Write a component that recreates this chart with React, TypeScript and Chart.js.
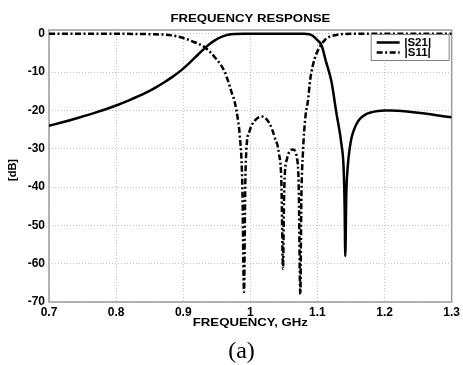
import React, { useEffect, useRef } from "react";
import { Chart, registerables } from "chart.js";

Chart.register(...registerables);

// ---- data ----
const freqS21 = [
  0.70, 0.72, 0.744, 0.77, 0.80, 0.82, 0.843, 0.86, 0.873, 0.885, 0.895, 0.905,
  0.917, 0.927, 0.937, 0.947, 0.957, 0.967, 0.977, 0.99, 1.05, 1.08, 1.088, 1.093,
  1.098, 1.106, 1.113, 1.121, 1.128, 1.136, 1.139, 1.1405, 1.1415, 1.143, 1.145,
  1.148, 1.151, 1.155, 1.16, 1.165, 1.172, 1.18, 1.19, 1.2, 1.21, 1.22, 1.24, 1.26, 1.28, 1.30,
];
const magS21 = [
  -24.0, -23.1, -21.9, -20.5, -18.7, -17.3, -15.5, -13.9, -12.5, -11.1, -9.8, -8.3,
  -6.3, -4.6, -3.0, -1.7, -0.8, -0.25, -0.05, 0, 0, 0, -0.1, -0.5,
  -1.3, -3.0, -7.4, -12.6, -20.4, -29.1, -35, -45, -58, -42, -35,
  -30.0, -27.0, -24.8, -23.0, -21.9, -21.0, -20.5, -20.15, -20.0, -20.0, -20.1, -20.4, -20.8, -21.3, -21.8,
];

const freqS11 = [
  0.70, 0.80, 0.85, 0.8825, 0.90, 0.917, 0.932, 0.947, 0.962, 0.972, 0.977, 0.982,
  0.984, 0.988, 0.9906, 0.9925, 0.994, 0.999, 1.0065, 1.0174, 1.0289, 1.0363, 1.0427,
  1.0463, 1.0487, 1.0502, 1.0512, 1.0547, 1.0636, 1.0696, 1.072, 1.0745, 1.076,
  1.0784, 1.082, 1.0859, 1.0894, 1.0958, 1.1033, 1.113, 1.128, 1.15, 1.30,
];
const magS11 = [
  0, 0, -0.1, -0.4, -1.1, -2.2, -3.5, -6.1, -10.0, -15.2, -18.0, -23.0,
  -26.1, -39.0, -67.4, -39.0, -30.5, -25.3, -22.7, -21.6, -23.5, -27.0, -31.3,
  -39.0, -61.3, -43.5, -37.4, -32.6, -30.2, -32.6, -39.0, -68.0, -43.5,
  -31.0, -21.8, -17.4, -11.7, -6.5, -3.5, -1.3, -0.3, 0, 0,
];

const xTicks = [0.7, 0.8, 0.9, 1.0, 1.1, 1.2, 1.3];
const yTicks = [0, -10, -20, -30, -40, -50, -60, -70];
const seriesNames = ["|S21|", "|S11|"];
const chartTitle = "FREQUENCY RESPONSE";
const xTitle = "FREQUENCY, GHz";
const yTitle = "[dB]";
const caption = "(a)";

const SANS = '"Liberation Sans", Arial, Helvetica, sans-serif';
const SERIF = '"Liberation Serif", "Times New Roman", serif';
const DASH_DOT = [6, 2.5, 2, 2.5];

function stretchedText(
  ctx: CanvasRenderingContext2D,
  str: string,
  x: number,
  y: number,
  font: string,
  sx: number,
  rot = 0
) {
  ctx.save();
  ctx.translate(x, y);
  if (rot) ctx.rotate(rot);
  ctx.scale(sx, 1);
  ctx.font = font;
  ctx.fillStyle = "#000";
  ctx.textAlign = "center";
  ctx.textBaseline = "middle";
  ctx.fillText(str, 0, 0);
  ctx.restore();
}

const decorPlugin = {
  id: "decor",
  beforeDatasetsDraw(chart: any) {
    const { ctx, chartArea: a } = chart;
    ctx.save();
    ctx.strokeStyle = "#9a9a9a";
    ctx.lineWidth = 1.5;
    ctx.strokeRect(a.left, a.top, a.right - a.left, a.bottom - a.top);
    ctx.restore();
  },
  afterDatasetsDraw(chart: any) {
    const { ctx, chartArea: a } = chart;
    // legend box
    const bx = a.right - 81;
    const by = a.top + 4;
    const bw = 79;
    const bh = 27;
    ctx.save();
    ctx.fillStyle = "#fff";
    ctx.fillRect(bx, by, bw, bh);
    ctx.strokeStyle = "#808080";
    ctx.lineWidth = 1;
    ctx.strokeRect(bx + 0.5, by + 0.5, bw - 1, bh - 1);
    ctx.restore();
    const rows = [by + 8.5, by + 18.5];
    chart.data.datasets.forEach((ds: any, i: number) => {
      ctx.save();
      ctx.beginPath();
      ctx.strokeStyle = "#000";
      ctx.lineWidth = 2.5;
      ctx.setLineDash(ds.borderDash || []);
      ctx.moveTo(bx + 6, rows[i]);
      ctx.lineTo(bx + 29, rows[i]);
      ctx.stroke();
      ctx.restore();
      stretchedText(ctx, ds.label, bx + 47, rows[i] + 0.5, `bold 10px ${SANS}`, 1.15);
    });
  },
  afterDraw(chart: any) {
    const { ctx, chartArea: a } = chart;
    const cx = (a.left + a.right) / 2;
    stretchedText(ctx, chartTitle, cx, 18.5, `bold 11px ${SANS}`, 1.2);
    stretchedText(ctx, xTitle, cx, 323, `bold 11px ${SANS}`, 1.2);
    stretchedText(ctx, yTitle, 12.5, 170, `bold 11px ${SANS}`, 1.0, -Math.PI / 2);
    ctx.save();
    ctx.font = `24px ${SERIF}`;
    ctx.fillStyle = "#000";
    ctx.textAlign = "center";
    ctx.textBaseline = "alphabetic";
    ctx.fillText(caption, 241.5, 358);
    ctx.restore();
  },
};

export default function App() {
  const ref = useRef<HTMLCanvasElement>(null);

  useEffect(() => {
    if (!ref.current) return;
    const tickFont = { family: SANS, size: 12, weight: "bold" as const };
    const chart = new Chart(ref.current, {
      type: "line",
      data: {
        datasets: [
          {
            label: seriesNames[0],
            data: freqS21.map((x, i) => ({ x, y: magS21[i] })),
            borderColor: "#000",
            borderWidth: 2.5,
            pointRadius: 0,
            fill: false,
            cubicInterpolationMode: "monotone",
          },
          {
            label: seriesNames[1],
            data: freqS11.map((x, i) => ({ x, y: magS11[i] })),
            borderColor: "#000",
            borderWidth: 2.5,
            borderDash: DASH_DOT,
            pointRadius: 0,
            fill: false,
            cubicInterpolationMode: "monotone",
          },
        ],
      },
      options: {
        animation: false,
        responsive: false,
        maintainAspectRatio: false,
        layout: { padding: { top: 30, right: 11, left: 0, bottom: 0 } },
        plugins: {
          legend: { display: false },
          title: { display: false },
          tooltip: { enabled: false },
        },
        scales: {
          x: {
            type: "linear",
            min: 0.7,
            max: 1.3,
            afterBuildTicks: (s: any) => {
              s.ticks = xTicks.map((v) => ({ value: v }));
            },
            afterFit: (s: any) => {
              s.height = 63;
            },
            grid: { color: "#c2c2c2", lineWidth: 1, drawTicks: false },
            border: { display: false, dash: [1, 2] },
            ticks: {
              font: tickFont,
              color: "#000",
              padding: 3,
              maxRotation: 0,
              autoSkip: false,
              callback: (v: any) => String(Number(v)),
            },
          },
          y: {
            type: "linear",
            min: -70,
            max: 1,
            afterBuildTicks: (s: any) => {
              s.ticks = yTicks.map((v) => ({ value: v }));
            },
            afterFit: (s: any) => {
              s.width = 49;
            },
            grid: { color: "#c2c2c2", lineWidth: 1, drawTicks: false },
            border: { display: false, dash: [1, 2] },
            ticks: {
              font: tickFont,
              color: "#000",
              padding: 4,
              autoSkip: false,
              callback: (v: any) => String(Number(v)),
            },
          },
        },
      },
      plugins: [decorPlugin],
    } as any);
    return () => chart.destroy();
  }, []);

  return (
    <div style={{ position: "fixed", left: 0, top: 0, width: 463, height: 365, background: "#fff" }}>
      <canvas ref={ref} width={463} height={365} />
    </div>
  );
}
